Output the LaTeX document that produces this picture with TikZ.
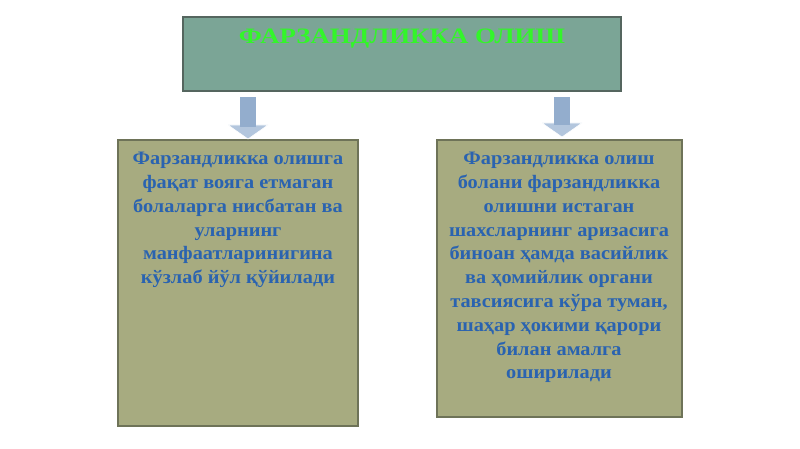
\documentclass[tikz,border=0pt]{standalone}
\usepackage{fontspec}
\setmainfont{Liberation Serif}
\usetikzlibrary{positioning}
\definecolor{titlefill}{HTML}{7BA596}
\definecolor{boxfill}{HTML}{A7AB80}
\definecolor{boxedge}{HTML}{6E7358}
\definecolor{titleedge}{HTML}{55665F}
\definecolor{txtblue}{HTML}{2A63B0}
\definecolor{titlegreen}{HTML}{33F52A}
\definecolor{arrshaft}{HTML}{93ADCD}
\definecolor{arrhead}{HTML}{B3C6DD}
\tikzset{
  x=1pt,y=-1pt,
  panel/.style={draw=boxedge,line width=1.6pt,fill=boxfill},
  bodytext/.style={text=txtblue,font=\bfseries\fontsize{19}{23.8}\selectfont,align=center,inner sep=0pt,anchor=north,xscale=1.07},
  blockarrow/.style={fill=arrshaft,draw=none},
  arrowhead/.style={fill=arrhead,draw=white,line width=0.6pt}
}
\begin{document}
\begin{tikzpicture}
\useasboundingbox (0,0) rectangle (800,449);
% title
\draw[draw=titleedge,line width=1.6pt,fill=titlefill] (183,17) rectangle (621,91);
\node[text=titlegreen,font=\bfseries\fontsize{22}{24}\selectfont,inner sep=0pt,xscale=1.22] (title) at (402,39) {ФАРЗАНДЛИККА ОЛИШ};
% boxes
\draw[panel] (118,140) rectangle (358,426);
\draw[panel] (437,140) rectangle (682,417);
\coordinate (la) at (248,97);
\coordinate (ra) at (562,97);
% arrows
\fill[arrowhead] ([xshift=-20]la |- 0,125) -- ([xshift=20]la |- 0,125) -- (la |- 0,139) -- cycle;
\fill[blockarrow] ([xshift=-8]la) rectangle ([xshift=8]la |- 0,127);
\fill[arrowhead] ([xshift=-20]ra |- 0,123) -- ([xshift=20]ra |- 0,123) -- (ra |- 0,137) -- cycle;
\fill[blockarrow] ([xshift=-8]ra) rectangle ([xshift=8]ra |- 0,125);
% texts
\node[bodytext] (lt) at (238,152) {Фарзандликка олишга\\фақат вояга етмаган\\болаларга нисбатан ва\\уларнинг\\манфаатларинигина\\кўзлаб йўл қўйилади};
\node[bodytext] (rt) at (559,152) {Фарзандликка олиш\\болани фарзандликка\\олишни истаган\\шахсларнинг аризасига\\биноан ҳамда васийлик\\ва ҳомийлик органи\\тавсиясига кўра туман,\\шаҳар ҳокими қарори\\билан амалга\\оширилади};
\end{tikzpicture}
\end{document}
